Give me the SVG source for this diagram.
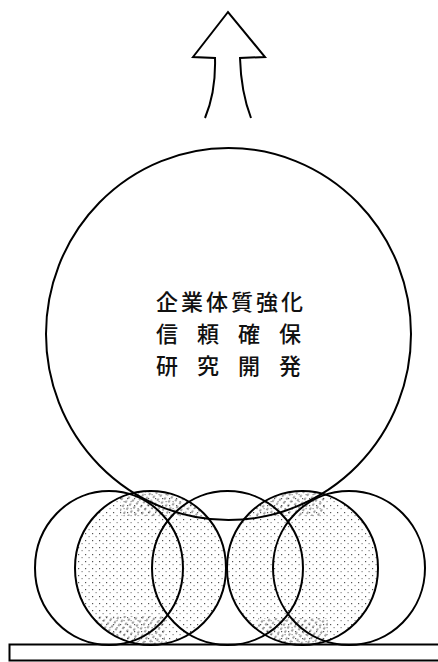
<svg xmlns="http://www.w3.org/2000/svg" width="438" height="662" viewBox="0 0 438 662">
<style>
.ln{fill:none;stroke:#000;stroke-width:2}
.tx{font-family:"Noto Sans CJK JP","Noto Sans CJK SC",sans-serif;font-size:22px;font-weight:500;fill:#111}
</style>
<defs>
<pattern id="dots" width="7" height="7" patternUnits="userSpaceOnUse">
<rect x="1" y="1" width="1.2" height="1.2" fill="#555"/>
<rect x="4.5" y="4" width="1.2" height="1.2" fill="#888"/>
</pattern>
<pattern id="hatch" width="5" height="5" patternUnits="userSpaceOnUse" patternTransform="rotate(-55)">
<line x1="0" y1="1" x2="2.5" y2="1" stroke="#333" stroke-width="1.2"/>
</pattern>
<clipPath id="k2"><ellipse cx="150.5" cy="568" rx="75.5" ry="77"/></clipPath>
<clipPath id="k4"><ellipse cx="302.5" cy="568" rx="75.5" ry="77"/></clipPath>
</defs>
<rect width="438" height="662" fill="#fff"/>
<g id="arrow">
<path class="ln" d="M205,118 Q216,92 215,58 L193,57 L228,12 L265,57 L240,58 Q241,92 251,118"/>
</g>
<g id="shading">
<ellipse cx="150.5" cy="568" rx="75.5" ry="77" fill="url(#dots)"/>
<ellipse cx="302.5" cy="568" rx="75.5" ry="77" fill="url(#dots)"/>
<g clip-path="url(#k2)" fill="url(#hatch)" opacity="0.75">
<rect x="120" y="488" width="80" height="28"/>
<rect x="95" y="616" width="70" height="30"/>
</g>
<g clip-path="url(#k4)" fill="url(#hatch)" opacity="0.75">
<rect x="255" y="488" width="70" height="28"/>
<rect x="258" y="618" width="70" height="28"/>
</g>
</g>
<g id="c1"><ellipse class="ln" cx="109" cy="568" rx="74" ry="77"/></g>
<g id="c2"><ellipse class="ln" cx="150.5" cy="568" rx="75.5" ry="77"/></g>
<g id="c3"><ellipse class="ln" cx="227.5" cy="568" rx="75.5" ry="77"/></g>
<g id="c4"><ellipse class="ln" cx="302.5" cy="568" rx="75.5" ry="77"/></g>
<g id="c5"><ellipse class="ln" cx="349" cy="568" rx="76" ry="77"/></g>
<g id="big">
<ellipse class="ln" cx="228.5" cy="334" rx="182.5" ry="186"/>
<text class="tx" x="156 181 206 231 256 281" y="310">企業体質強化</text>
<text class="tx" x="156 197 238 279" y="342">信頼確保</text>
<text class="tx" x="156 197 238 279" y="374">研究開発</text>
</g>
<g id="base">
<rect class="ln" x="9.5" y="644.5" width="440" height="16"/>
</g>
<g id="connectors"/>
</svg>
